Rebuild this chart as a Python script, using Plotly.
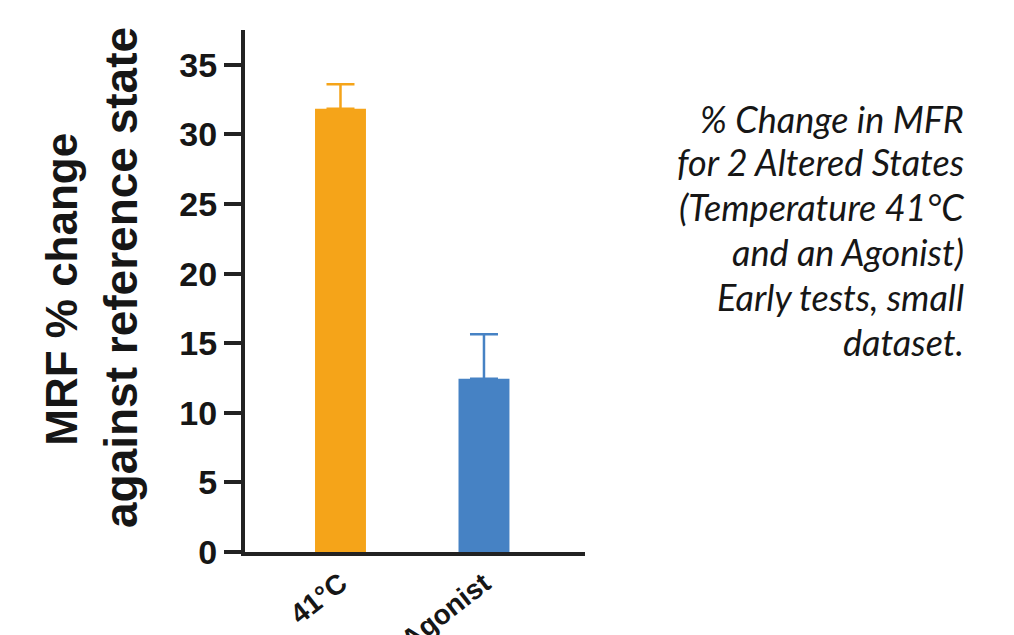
import plotly.graph_objects as go

categories = ["41°C", "Agonist"]
values = [31.85, 12.45]
errors_plus = [1.75, 3.2]
bar_colors = ["#F5A419", "#4682C4"]
y_tick_vals = [0, 5, 10, 15, 20, 25, 30, 35]
y_title_lines = ["MRF % change", "against reference state"]
note_lines = ["% Change in MFR", "for 2 Altered States", "(Temperature 41°C",
              "and an Agonist)", "Early tests, small", "dataset."]

AX = "#222222"
TXT = "#161616"
SANS = "Liberation Sans, Arial, sans-serif"

fig = go.Figure()
for cat, v, e, c in zip(categories, values, errors_plus, bar_colors):
    fig.add_trace(go.Bar(
        x=[cat], y=[v], width=0.355,
        marker=dict(color=c, line=dict(width=0)),
        error_y=dict(type="data", array=[e], arrayminus=[0], symmetric=False,
                     color=c, thickness=2.5, width=14),
        showlegend=False,
    ))

OFF = 8  # page body margin
W, H = 1006, 627
L = 245 - OFF
T = 30 - OFF
plot_right = 585 - OFF
plot_bottom = 552.5 - OFF
R = W - plot_right
B = H - plot_bottom
pw = plot_right - L
ph = plot_bottom - T

def px_x(x):
    return (x - OFF - L) / pw

def px_y(y):
    return (plot_bottom - (y - OFF)) / ph

fig.update_layout(
    width=W, height=H, autosize=False,
    margin=dict(l=L, r=R, t=T, b=B, pad=0),
    paper_bgcolor="white", plot_bgcolor="white",
    barmode="overlay",
    xaxis=dict(
        range=[-0.6655, 1.704], showline=True, linewidth=4, linecolor=AX,
        ticks="", showgrid=False, zeroline=False, tickangle=-38,
        tickfont=dict(family=SANS, size=28, color=TXT, weight="bold"),
        automargin=False,
    ),
    yaxis=dict(
        range=[0, 37.5], tickvals=y_tick_vals, showline=True, linewidth=4,
        linecolor=AX, ticks="outside", ticklen=17, tickwidth=4, tickcolor=AX,
        showgrid=False, zeroline=False,
        tickfont=dict(family=SANS, size=34, color=TXT, weight="bold"),
        automargin=False,
    ),
)

fig.add_annotation(
    text=y_title_lines[0], textangle=-90, xref="paper", yref="paper",
    x=px_x(62), y=px_y(290), xanchor="center", yanchor="middle", showarrow=False,
    font=dict(family=SANS, size=44, color=TXT, weight="bold"),
)
fig.add_annotation(
    text=y_title_lines[1], textangle=-90, xref="paper", yref="paper",
    x=px_x(121), y=px_y(531), xanchor="center", yanchor="bottom", showarrow=False,
    font=dict(family=SANS, size=46, color=TXT, weight="bold"),
)

note_centers = [122, 165, 210, 255, 300, 345]
for line, yc in zip(note_lines, note_centers):
    fig.add_annotation(
        text=line, xref="paper", yref="paper",
        x=px_x(966), y=px_y(yc - 3), xanchor="right", yanchor="middle", align="right",
        showarrow=False,
        font=dict(family="Lato, sans-serif", size=36, color=TXT, style="italic"),
    )

fig.write_html("out.html")
